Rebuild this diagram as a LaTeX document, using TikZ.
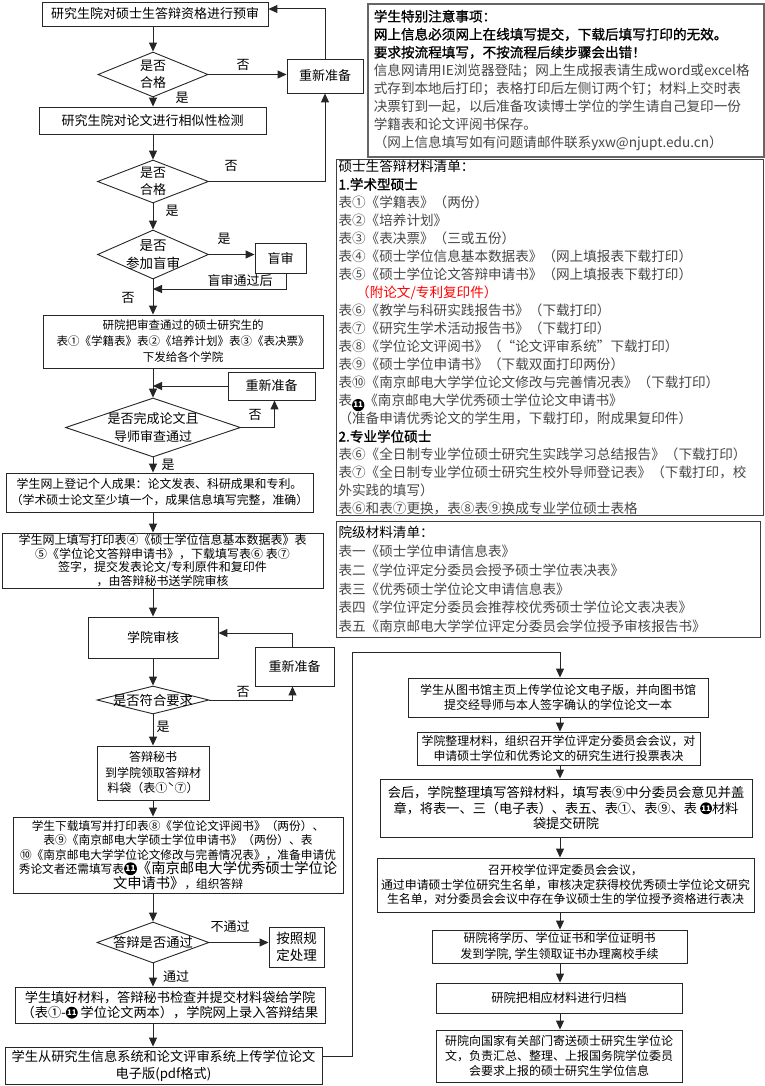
\documentclass[tikz,border=0pt]{standalone}
\usepackage{fontspec}
\setmainfont{Noto Sans CJK SC}
\newfontfamily\heiB[FakeBold=1.2]{Noto Sans CJK SC}
\usetikzlibrary{arrows.meta,shapes.geometric,calc}
\newcommand{\setfs}[2]{\fontsize{#1}{#2}\selectfont}
% negative circled number eleven, drawn as a shape (no installed font has U+24EB)
\newcommand{\nel}[2]{\tikz[baseline=-0.36*#1pt,x=1pt,y=1pt]\node[circle,fill=black,text=white,inner sep=0pt,minimum size=0.9*#1pt,font=\fontsize{#2}{#2}\selectfont\bfseries]{11};}
\begin{document}
\begin{tikzpicture}[x=1pt,y=-1pt,
  box/.style={draw=black!85,line width=0.9pt,rectangle,inner sep=0pt,align=center},
  dia/.style={draw=black!85,line width=0.9pt,diamond,inner sep=0pt},
  dtxt/.style={inner sep=0pt,align=center},
  lbl/.style={inner sep=0pt,font=\setfs{13}{15}},
  arr/.style={draw=black!85,line width=1pt,-{Triangle[length=9pt,width=8pt]}},
  note/.style={draw=black!75,line width=1pt,anchor=north west,align=left,inner ysep=0pt,text=black!72}
]
\fill[white] (0,0) rectangle (765,1086);
\useasboundingbox (0,0) rectangle (765,1086);
\coordinate (lc) at (153,0);
\coordinate (rc) at (560,0);

% ---------- left column ----------
\node[box,minimum width=226,minimum height=24,font=\setfs{13}{15}] (b1) at (155,14) {研究生院对硕士生答辩资格进行预审};
\node[dia,minimum width=110,minimum height=45] (d1) at (153,74.5) {};
\node[dtxt,font=\setfs{13}{17}] (t1) at (d1) {是否\\合格};
\node[box,minimum width=76,minimum height=34,font=\setfs{13}{15}] (r1) at (325,76) {重新准备};
\node[box,minimum width=227,minimum height=27,font=\setfs{13}{15}] (b2) at (152.5,120.5) {研究生院对论文进行相似性检测};
\node[dia,minimum width=111,minimum height=43] (d2) at (153,181.5) {};
\node[dtxt,font=\setfs{13}{17}] (t2) at (d2) {是否\\合格};
\node[dia,minimum width=111,minimum height=49] (d3) at (153,254.5) {};
\node[dtxt,font=\setfs{13.5}{18}] (t3) at (d3) {是否\\参加盲审};
\node[box,minimum width=51,minimum height=30,font=\setfs{13}{15}] (mb) at (280.5,258) {盲审};
\node[box,minimum width=280,minimum height=53,font=\setfs{11.5}{16}] (b3) at (183,341.5) {研院把审查通过的硕士研究生的\\表①《学籍表》表②《培养计划》表③《表决票》\\下发给各个学院};
\node[box,minimum width=87,minimum height=28,font=\setfs{13}{15}] (r2) at (271.5,386) {重新准备};
\node[dia,minimum width=175,minimum height=59] (d4) at (153,427.5) {};
\node[dtxt,font=\setfs{13}{18}] (t4) at (d4) {是否完成论文且\\导师审查通过};
\node[box,minimum width=307,minimum height=39,font=\setfs{11.9}{16}] (b4) at (159.5,492.5) {学生网上登记个人成果：论文发表、科研成果和专利。\\（学术硕士论文至少填一个，成果信息填写完整，准确）};
\node[box,minimum width=321,minimum height=55,font=\setfs{12}{13.6}] (b5) at (162.5,560.5) {学生网上填写打印表④《硕士学位信息基本数据表》表\\⑤《学位论文答辩申请书》，下载填写表⑥ 表⑦\\签字，提交发表论文/专利原件和复印件\\，由答辩秘书送学院审核};
\node[box,minimum width=130,minimum height=41,font=\setfs{13}{15}] (b6) at (153,637.5) {学院审核};
\node[box,minimum width=79,minimum height=39,font=\setfs{13}{15}] (r3) at (294.5,666.5) {重新准备};
\node[dia,minimum width=112,minimum height=28] (d5) at (153,700) {};
\node[dtxt,font=\setfs{13.3}{15}] (t5) at (d5) {是否符合要求};
\node[box,minimum width=112,minimum height=54,font=\setfs{12}{15.5}] (b7) at (153,773) {答辩秘书\\到学院领取答辩材\\料袋（表①ˋ⑦）};
\node[box,minimum width=330,minimum height=76,font=\setfs{11.7}{14.5}] (b8) at (178,855) {学生下载填写并打印表⑧《学位论文评阅书》（两份）、\\表⑨《南京邮电大学硕士学位申请书》（两份）、表\\⑩《南京邮电大学学位论文修改与完善情况表》，准备申请优\\秀论文者还需填写表{\setfs{14.3}{14.5}\nel{14.3}{8.3}《南京邮电大学优秀硕士学位论}\\{\setfs{14.3}{14.5}文申请书》}，组织答辩};
\node[dia,minimum width=112,minimum height=41] (d6) at (153,942.5) {};
\node[dtxt,font=\setfs{13.3}{15}] (t6) at (d6) {答辩是否通过};
\node[box,minimum width=55,minimum height=40,font=\setfs{13.5}{17}] (b9) at (296.5,947) {按照规\\定处理};
\node[box,minimum width=310,minimum height=36,font=\setfs{13.2}{15}] (b10) at (170,1005) {学生填好材料，答辩秘书检查并提交材料袋给学院\\（表①-\nel{13.2}{7.7} 学位论文两本），学院网上录入答辩结果};
\node[box,minimum width=317,minimum height=37,font=\setfs{13.2}{17}] (b11) at (163.5,1065.5) {学生从研究生信息系统和论文评审系统上传学位论文\\电子版(pdf格式)};

% ---------- right column ----------
\node[box,minimum width=300,minimum height=39,font=\setfs{12}{15}] (c1) at (558,697.5) {学生从图书馆主页上传学位论文电子版，并向图书馆\\提交经导师与本人签字确认的学位论文一本};
\node[box,minimum width=283,minimum height=33,font=\setfs{11.9}{15}] (c2) at (558.5,748.5) {学院整理材料，组织召开学位评定分委员会会议，对\\申请硕士学位和优秀论文的研究生进行投票表决};
\node[box,minimum width=372,minimum height=58,font=\setfs{13.2}{15.5}] (c3) at (566,808) {会后，学院整理填写答辩材料，填写表⑨中分委员会意见并盖\\章，将表一、三（电子表）、表五、表①、表⑨、表 \nel{13.2}{7.7}材料\\袋提交研院};
\node[box,minimum width=377,minimum height=54,font=\setfs{11.9}{14.5}] (c4) at (565.5,885) {召开校学位评定委员会会议，\\通过申请硕士学位研究生名单，审核决定获得校优秀硕士学位论文研究\\生名单，对分委员会会议中存在争议硕士生的学位授予资格进行表决};
\node[box,minimum width=255,minimum height=33,font=\setfs{12}{16}] (c5) at (559.5,946.5) {研院将学历、学位证书和学位证明书\\发到学院, 学生领取证书办理离校手续};
\node[box,minimum width=246,minimum height=30,font=\setfs{12.3}{15}] (c6) at (559,998) {研院把相应材料进行归档};
\node[box,minimum width=246,minimum height=52,font=\setfs{12}{15}] (c7) at (559,1056) {研院向国家有关部门寄送硕士研究生学位论\\文，负责汇总、整理、上报国务院学位委员\\会要求上报的硕士研究生学位信息};

% ---------- note boxes ----------
\node[note,minimum width=396,minimum height=153,text width=384,inner xsep=6,font=\setfs{13.6}{18},draw=black!60,line width=1.6pt] (n1) at (367,3) {%
{\color{black}\heiB 学生特别注意事项：}\\
{\color{black}\heiB 网上信息必须网上在线填写提交，下载后填写打印的无效。}\\
{\color{black}\heiB 要求按流程填写，不按流程后续步骤会出错！}\\
信息网请用IE浏览器登陆；网上生成报表请生成word或excel格\\
式存到本地后打印；表格打印后左侧订两个钉；材料上交时表\\
决票钉到一起，以后准备攻读博士学位的学生请自己复印一份\\
学籍表和论文评阅书保存。\\
（网上信息填写如有问题请邮件联系yxw@njupt.edu.cn）};
\node[note,minimum width=427,minimum height=356,text width=423,inner xsep=2,font=\setfs{13.6}{18}] (n2) at (336,159) {%
{\color{black}硕士生答辩材料清单：}\\
{\color{black}\heiB 1.学术型硕士}\\
表①《学籍表》（两份）\\
表②《培养计划》\\
表③《表决票》（三或五份）\\
表④《硕士学位信息基本数据表》（网上填报表下载打印）\\
表⑤《硕士学位论文答辩申请书》（网上填报表下载打印）\\
\hspace*{1.3em}{\color{red}（附论文/专利复印件）}\\
表⑥《教学与科研实践报告书》（下载打印）\\
表⑦《研究生学术活动报告书》（下载打印）\\
表⑧《学位论文评阅书》（“论文评审系统”下载打印）\\
表⑨《硕士学位申请书》（下载双面打印两份）\\
表⑩《南京邮电大学学位论文修改与完善情况表》（下载打印）\\
表\nel{13.6}{7.9}《南京邮电大学优秀硕士学位论文申请书》\\
（准备申请优秀论文的学生用，下载打印，附成果复印件）\\
{\color{black}\heiB 2.专业学位硕士}\\
表⑥《全日制专业学位硕士研究生实践学习总结报告》（下载打印）\\
表⑦《全日制专业学位硕士研究生校外导师登记表》（下载打印，校\\
外实践的填写）\\
表⑥和表⑦更换，表⑧表⑨换成专业学位硕士表格};
\node[note,minimum width=424,minimum height=116,text width=420,inner xsep=2,font=\setfs{13.6}{18.8}] (n3) at (336,521) {%
{\color{black}院级材料清单：}\\
表一《硕士学位申请信息表》\\
表二《学位评定分委员会授予硕士学位表决表》\\
表三《优秀硕士学位论文申请信息表》\\
表四《学位评定分委员会推荐校优秀硕士学位论文表决表》\\
表五《南京邮电大学学位评定分委员会学位授予审核报告书》};

% ---------- labels ----------
\node[lbl] (l1) at (243,65) {否};
\node[lbl] (l2) at (182,98) {是};
\node[lbl] (l3) at (231,166) {否};
\node[lbl] (l4) at (172,211) {是};
\node[lbl] (l5) at (224,239) {是};
\node[lbl] (l6) at (240,281) {盲审通过后};
\node[lbl] (l7) at (128,298) {否};
\node[lbl] (l8) at (255,415) {否};
\node[lbl] (l9) at (168,465) {是};
\node[lbl] (l10) at (243,692) {否};
\node[lbl] (l11) at (163,727) {是};
\node[lbl] (l12) at (230,927) {不通过};
\node[lbl] (l13) at (176,977) {通过};

% ---------- connectors ----------
\draw[arr] (b1.south -| lc) -- (d1.north);
\draw[arr] (d1.east) -- (d1.east -| r1.west);
\draw[arr] (r1.north) |- ($(b1.east)+(0,-5)$);
\draw[arr] (d1.south) -- (d1.south |- b2.north);
\draw[arr] (b2.south -| lc) -- (d2.north);
\draw[arr] (d2.east) -| (r1.south);
\draw[arr] (d2.south) -- (d3.north);
\draw[arr] (d3.east) -- (d3.east -| mb.west);
\coordinate (j1) at (153,289);
\draw[arr] ($(mb.south)+(6,0)$) |- (j1);
\draw[arr] (d3.south) -- (d3.south |- b3.north);
\draw[arr] (b3.south -| lc) -- (d4.north);
\draw[arr] (r2.west) -- (r2.west -| lc);
\draw[arr] (d4.east) -| ($(r2.south)+(3,0)$);
\draw[arr] (d4.south) -- (d4.south |- b4.north);
\draw[arr] (b4.south -| lc) -- (b5.north -| lc);
\draw[arr] (b5.south -| lc) -- (b6.north);
\draw[arr] (b6.south) -- (d5.north);
\draw[arr] (d5.east) -| ($(r3.south)+(-2,0)$);
\draw[arr] ($(r3.north)+(-2,0)$) |- ($(b6.east)+(0,-4.5)$);
\draw[arr] (d5.south) -- (b7.north);
\draw[arr] (b7.south) -- (b8.north -| lc);
\draw[arr] (b8.south -| lc) -- (d6.north);
\draw[arr] (d6.east) -- (d6.east -| b9.west);
\draw[arr] (d6.south) -- (d6.south |- b10.north);
\draw[arr] (b10.south -| lc) -- (b11.north -| lc);
\coordinate (k1) at (352,652);
\draw[arr] ($(b11.east)+(0,-9.5)$) -| (k1) -| (c1.north -| rc);
\draw[arr] (c1.south -| rc) -- (c2.north -| rc);
\draw[arr] (c2.south -| rc) -- (c3.north -| rc);
\draw[arr] (c3.south -| rc) -- (c4.north -| rc);
\draw[arr] (c4.south -| rc) -- (c5.north -| rc);
\draw[arr] (c5.south -| rc) -- (c6.north -| rc);
\draw[arr] (c6.south -| rc) -- (c7.north -| rc);
\end{tikzpicture}
\end{document}
